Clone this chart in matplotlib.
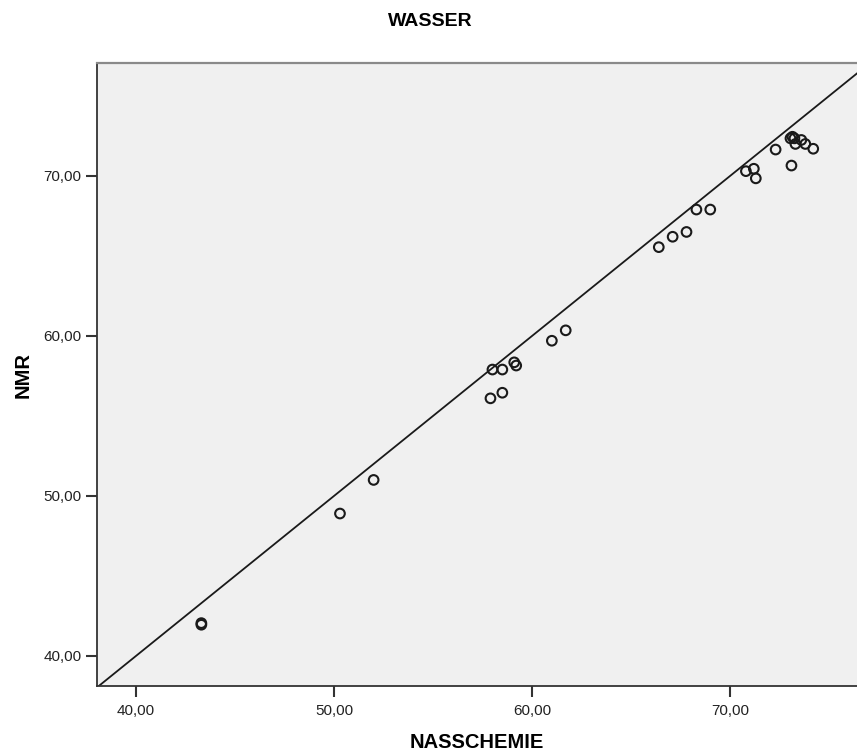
import matplotlib
matplotlib.use("Agg")
import matplotlib.pyplot as plt
from matplotlib.ticker import FuncFormatter

# Water content: wet chemistry vs. NMR
nasschemie = [43.3, 43.3, 50.3, 52.0, 57.9, 58.5, 58.0, 58.5, 59.1, 59.2,
              61.0, 61.7, 66.4, 67.1, 67.8, 68.3, 69.0, 70.8, 71.2, 71.3,
              72.3, 73.1, 73.05, 73.15, 73.25, 73.3, 73.6, 73.8, 74.2]
nmr = [42.05, 41.95, 48.9, 51.0, 56.1, 56.45, 57.9, 57.9, 58.35, 58.15,
       59.7, 60.35, 65.55, 66.2, 66.5, 67.9, 67.9, 70.3, 70.45, 69.85,
       71.65, 70.65, 72.35, 72.45, 72.35, 72.0, 72.25, 72.0, 71.7]
ticks = [40, 50, 60, 70]

plt.rcParams['font.family'] = ['Liberation Sans', 'DejaVu Sans']

W, H = 857, 753
fig = plt.figure(figsize=(W / 100, H / 100), dpi=100)
ax = fig.add_axes([97 / W, 1 - 686 / H, (W - 97) / W, (686 - 63) / H])
ax.set_facecolor('#f0f0f0')

ax.set_xlim(38.03, 76.41)
ax.set_ylim(38.12, 77.06)

# identity reference line
ax.plot([36, 80], [36, 80], color='#1a1a1a', lw=1.3, zorder=2)

ax.scatter(nasschemie, nmr, s=48, facecolors='none', edgecolors='#1a1a1a',
           linewidths=1.5, zorder=3)

fmt = FuncFormatter(lambda v, p: f"{v:.2f}".replace('.', ','))
ax.set_xticks(ticks)
ax.set_yticks(ticks)
ax.xaxis.set_major_formatter(fmt)
ax.yaxis.set_major_formatter(fmt)
ax.tick_params(direction='out', length=8, width=1.5, color='#333333',
               labelsize=11, labelcolor='#222222', pad=3)
ax.tick_params(axis='x', pad=5)

for side in ('left', 'bottom'):
    ax.spines[side].set_color('#333333')
    ax.spines[side].set_linewidth(1.3)
ax.spines['top'].set_color('#8a8a8a')
ax.spines['top'].set_linewidth(1.6)
ax.spines['right'].set_visible(False)

ax.set_xlabel('NASSCHEMIE', fontsize=14.5, fontweight='bold', labelpad=11)
ax.set_ylabel('NMR', fontsize=14.5, fontweight='bold', labelpad=8)
fig.text(430 / W, 1 - 21 / H, 'WASSER', ha='center', va='center',
         fontsize=14, fontweight='bold')

fig.savefig('out.png', dpi=100)
